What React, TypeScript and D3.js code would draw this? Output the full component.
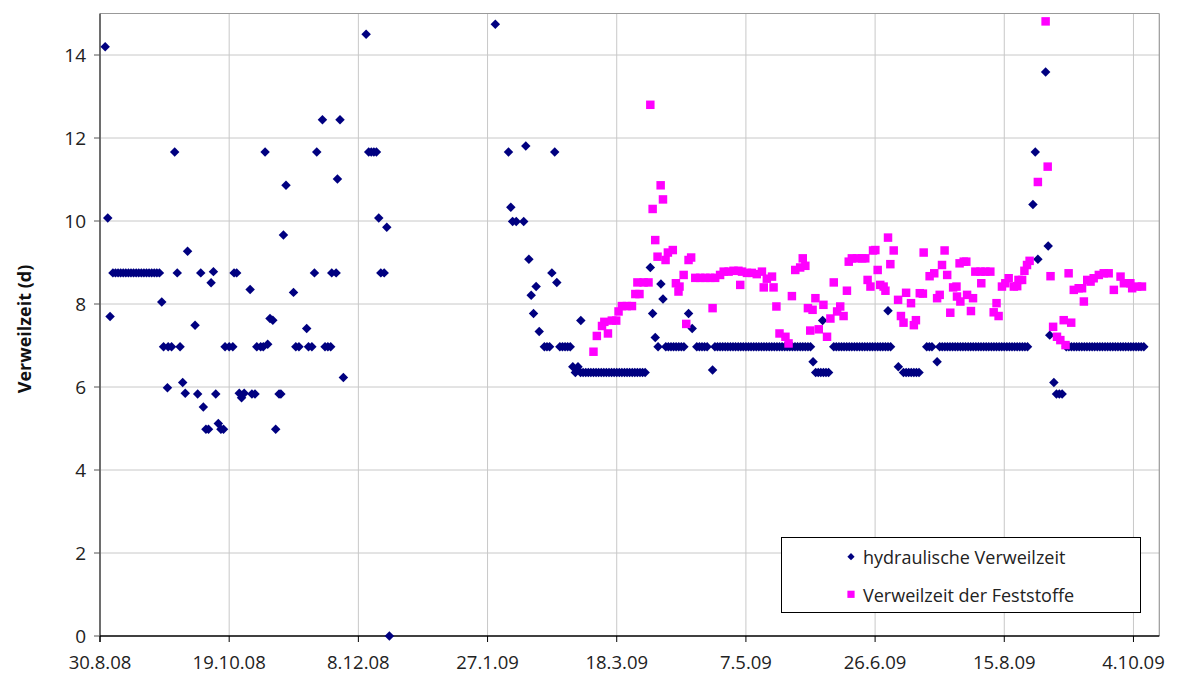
import React from 'react';
import * as d3 from 'd3';

const startDate = new Date(2008, 7, 30);
const domainDays = 410;
const xTickOffsets = [0, 50, 100, 150, 200, 250, 300, 350, 400];
const xTickLabels = ['30.8.08', '19.10.08', '8.12.08', '27.1.09', '18.3.09', '7.5.09', '26.6.09', '15.8.09', '4.10.09'];
const yTicks = [0, 2, 4, 6, 8, 10, 12, 14];
const yMax = 15;
const yTitle = 'Verweilzeit (d)';
const seriesNames = ['hydraulische Verweilzeit', 'Verweilzeit der Feststoffe'];

// [days since 30.8.08, value]
const hydraulic: [number, number][] = [
  [2, 14.2], [3, 10.07], [3.9, 7.7],
  [5, 8.75], [6, 8.75], [7, 8.75], [8, 8.75], [9, 8.75], [10, 8.75], [11, 8.75], [12, 8.75], [13, 8.75], [14, 8.75],
  [15, 8.75], [16, 8.75], [17, 8.75], [18, 8.75], [19, 8.75], [20, 8.75], [21, 8.75], [22, 8.75], [23, 8.75],
  [23.9, 8.05], [24.6, 6.97], [26.1, 5.98], [26.4, 6.97], [27.7, 6.97], [28.9, 11.66], [29.9, 8.75], [31, 6.97],
  [32, 6.11], [33, 5.85], [33.9, 9.27], [36.8, 7.49], [37.8, 5.83], [39, 8.75], [40, 5.52], [41, 4.98], [42, 4.98],
  [43, 8.51], [43.9, 8.78], [44.8, 5.83], [45.8, 5.12], [46.8, 4.98], [47.8, 4.98], [48.4, 6.97], [50, 6.97],
  [51.4, 6.97], [51.9, 8.75], [52.9, 8.75], [53.9, 5.85], [54.8, 5.74], [55.8, 5.85], [58.1, 8.35], [58.8, 5.83],
  [60, 5.83], [60.7, 6.97], [62.2, 6.97], [63.2, 6.97], [63.9, 11.66], [64.9, 7.03], [65.8, 7.65], [66.9, 7.61],
  [68, 4.98], [69.3, 5.83], [70, 5.83], [71, 9.66], [72, 10.86], [74.9, 8.28], [75.8, 6.97], [77, 6.97], [80, 7.41],
  [80.7, 6.97], [82, 6.97], [83, 8.75], [83.9, 11.66], [86.1, 12.44], [87.1, 6.97], [88.2, 6.97], [89.3, 6.97],
  [89.7, 8.75], [91.4, 8.75], [91.9, 11.01], [92.9, 12.44], [94.2, 6.23], [103, 14.5], [104, 11.66], [105, 11.66],
  [106, 11.66], [107, 11.66], [107.9, 10.07], [108.7, 8.75], [110, 8.75], [111, 9.85], [112, 0],
  [153, 14.74], [158.1, 11.66], [159, 10.33], [159.7, 9.99], [161.1, 9.99], [164, 9.99], [164.8, 11.81], [166, 9.08],
  [166.9, 8.21], [167.8, 7.77], [168.8, 8.42], [170, 7.34], [172, 6.97], [173, 6.97], [174, 6.97], [174.9, 8.75],
  [176, 11.66], [176.8, 8.52], [178, 6.97], [179, 6.97], [180, 6.97], [181, 6.97], [182, 6.97],
  [183, 6.49], [184, 6.35], [185, 6.49], [186.1, 7.6],
  [186, 6.35], [187, 6.35], [188, 6.35], [189, 6.35], [190, 6.35], [191, 6.35], [192, 6.35], [193, 6.35], [194, 6.35],
  [195, 6.35], [196, 6.35], [197, 6.35], [198, 6.35], [199, 6.35], [200, 6.35], [201, 6.35], [202, 6.35], [203, 6.35],
  [204, 6.35], [205, 6.35], [206, 6.35], [207, 6.35], [208, 6.35], [209, 6.35], [210, 6.35], [211, 6.35],
  [213, 8.88], [213.9, 7.77], [214.9, 7.19], [216, 6.97], [217.1, 8.48], [217.9, 8.12],
  [219, 6.97], [220, 6.97], [221, 6.97], [222, 6.97], [223, 6.97], [224, 6.97], [225, 6.97], [226, 6.97],
  [227.8, 7.77], [229.2, 7.41], [231, 6.97], [232, 6.97], [233, 6.97], [234, 6.97], [235, 6.97], [237.1, 6.41],
  [238, 6.97], [239, 6.97], [240, 6.97], [241, 6.97], [242, 6.97], [243, 6.97], [244, 6.97], [245, 6.97], [246, 6.97],
  [247, 6.97], [248, 6.97], [249, 6.97], [250, 6.97], [251, 6.97], [252, 6.97], [253, 6.97], [254, 6.97], [255, 6.97],
  [256, 6.97], [257, 6.97], [258, 6.97], [259, 6.97], [260, 6.97], [261, 6.97], [262, 6.97], [263, 6.97], [264, 6.97],
  [265, 6.97], [266, 6.97], [267, 6.97], [268, 6.97], [269, 6.97], [270, 6.97], [271, 6.97], [272, 6.97], [273, 6.97],
  [274, 6.97], [275, 6.97], [276, 6.61], [277, 6.35], [278, 6.35], [279, 6.35], [279.7, 7.6], [280, 6.35], [281, 6.35],
  [282, 6.35], [284, 6.97], [285, 6.97], [286, 6.97], [287, 6.97], [288, 6.97], [289, 6.97], [290, 6.97], [291, 6.97],
  [292, 6.97], [293, 6.97], [294, 6.97], [295, 6.97], [296, 6.97], [297, 6.97], [298, 6.97], [299, 6.97], [300, 6.97],
  [301, 6.97], [302, 6.97], [303, 6.97], [304, 6.97], [305, 7.84], [305, 6.97], [306, 6.97], [309, 6.49],
  [311, 6.35], [312, 6.35], [313, 6.35], [314, 6.35], [315, 6.35], [316, 6.35], [317, 6.35],
  [320, 6.97], [321, 6.97], [322, 6.97], [324, 6.61], [325, 6.97], [326, 6.97], [327, 6.97], [328, 6.97], [329, 6.97],
  [330, 6.97], [331, 6.97], [332, 6.97], [333, 6.97], [334, 6.97], [335, 6.97], [336, 6.97], [337, 6.97], [338, 6.97],
  [339, 6.97], [340, 6.97], [341, 6.97], [342, 6.97], [343, 6.97], [344, 6.97], [345, 6.97], [346, 6.97], [347, 6.97],
  [348, 6.97], [349, 6.97], [350, 6.97], [351, 6.97], [352, 6.97], [353, 6.97], [354, 6.97], [355, 6.97], [356, 6.97],
  [357, 6.97], [358, 6.97], [359, 6.97],
  [361.1, 10.4], [362, 11.66], [363, 9.08], [366, 13.59], [367, 9.4], [367.6, 7.25], [369.2, 6.11], [370.2, 5.83],
  [371.3, 5.83], [372.4, 5.83],
  [374, 6.97], [375, 6.97], [376, 6.97], [377, 6.97], [378, 6.97], [379, 6.97], [380, 6.97], [381, 6.97], [382, 6.97],
  [383, 6.97], [384, 6.97], [385, 6.97], [386, 6.97], [387, 6.97], [388, 6.97], [389, 6.97], [390, 6.97], [391, 6.97],
  [392, 6.97], [393, 6.97], [394, 6.97], [395, 6.97], [396, 6.97], [397, 6.97], [398, 6.97], [399, 6.97], [400, 6.97],
  [401, 6.97], [402, 6.97], [403, 6.97], [404, 6.97],
];

const feststoffe: [number, number][] = [
  [191, 6.85], [192.3, 7.23], [194.3, 7.47], [195.2, 7.57], [196.6, 7.29], [198.1, 7.6], [199.8, 7.6], [200.7, 7.82],
  [202, 7.95], [203.9, 7.95], [205.9, 7.95], [207.2, 8.24], [208, 8.52], [208.8, 8.24], [210.4, 8.52], [212.3, 8.52],
  [213, 12.8], [213.9, 10.29], [214.9, 9.54], [215.8, 9.14], [217, 10.86], [217.9, 10.52], [218.9, 9.06], [219.8, 9.24],
  [221.7, 9.3], [222.9, 8.5], [223.9, 8.3], [224.3, 8.42], [225.9, 8.7], [226.9, 7.52], [227.8, 9.06], [228.8, 9.12],
  [230.4, 8.63], [232.3, 8.63], [234.3, 8.63], [236.2, 8.63], [237.1, 7.9], [238.1, 8.63], [240, 8.7], [241.4, 8.78],
  [243.3, 8.78], [245.2, 8.8], [247.1, 8.8], [247.8, 8.46], [248.5, 8.78], [250.4, 8.75], [252.3, 8.75], [254.2, 8.72],
  [256.2, 8.78], [256.9, 8.4], [258.1, 8.61], [260.1, 8.66], [260.7, 8.4], [261.8, 7.94], [263, 7.29], [265.3, 7.21],
  [266.5, 7.05], [267.8, 8.19], [269.1, 8.82], [271, 8.88], [272, 9.1], [273, 8.92], [274, 7.9], [274.9, 7.36],
  [275.8, 7.86], [276.9, 8.14], [278.2, 7.39], [280, 7.98], [281.4, 7.21], [282.7, 7.65], [284, 8.52], [285.3, 7.82],
  [286.5, 7.94], [287.8, 7.71], [289.1, 8.32], [289.8, 9.02], [291, 9.1], [293, 9.1], [295, 9.1], [296.2, 9.1],
  [297.1, 8.58], [298.2, 8.42], [299.2, 9.29], [300.1, 9.3], [301, 8.82], [302, 8.46], [303.3, 8.42], [304, 8.32],
  [305, 9.6], [305.9, 8.96], [307.2, 9.29], [308.9, 8.1], [310, 7.71], [311, 7.55], [312, 8.27], [313.9, 8.02],
  [315, 7.49], [315.8, 7.61], [317.3, 8.26], [318.5, 8.25], [318.8, 9.24], [321.1, 8.67], [322.9, 8.74], [324, 8.14],
  [325, 8.22], [325.9, 8.94], [326.9, 9.29], [327.9, 8.7], [329.1, 7.79], [330.2, 8.4], [331.5, 8.42], [331.7, 8.18],
  [332.7, 8.98], [333, 8.06], [334.3, 9.02], [335.3, 9.02], [335.6, 8.22], [337.1, 7.83], [337.9, 8.14], [338.8, 8.78],
  [340.8, 8.78], [341.1, 8.5], [342.7, 8.78], [344.6, 8.78], [345.9, 7.8], [347, 8.02], [347.8, 7.71], [349.1, 8.42],
  [350.4, 8.5], [351.7, 8.62], [353.7, 8.42], [355, 8.43], [355.5, 8.58], [356.9, 8.58], [357.8, 8.8], [358.8, 8.94],
  [359.8, 9.04], [363, 10.94], [366, 14.81], [366.8, 11.31], [367.9, 8.67], [368.9, 7.45], [370.4, 7.21], [371.7, 7.13],
  [373, 7.61], [373.7, 7.01], [374.9, 8.74], [375.9, 7.55], [376.9, 8.34], [378.8, 8.38], [380.1, 8.38], [380.8, 8.06],
  [382.1, 8.58], [383.4, 8.54], [384.6, 8.62], [386.6, 8.7], [388.5, 8.74], [390.4, 8.74], [392.4, 8.34], [395, 8.66],
  [396.3, 8.5], [398.8, 8.5], [399.5, 8.38], [401.4, 8.42], [403.3, 8.42],
];

const DAY = 864e5;
const toDate = (d: number) => new Date(startDate.getTime() + d * DAY);

export default function App() {
  const W = 1178, H = 675;
  const left = 100, right = 1159.3, top = 13.5, bottom = 636;
  const x = d3.scaleTime().domain([startDate, toDate(domainDays)]).range([left, right]);
  const y = d3.scaleLinear().domain([0, yMax]).range([bottom, top]);
  const diamond = d3.symbol(d3.symbolSquare, 45)() as string;
  const square = d3.symbol(d3.symbolSquare, 72)() as string;
  const legDiamond = d3.symbol(d3.symbolSquare, 26)() as string;
  const legSquare = d3.symbol(d3.symbolSquare, 52)() as string;
  const font = "'Open Sans', 'DejaVu Sans', sans-serif";
  const grid = '#c8c8c8';

  return (
    <svg width={W} height={H} style={{ position: 'absolute', left: 0, top: 0, background: '#fff' }}
      fontFamily={font}>
      <rect x={0} y={0} width={W} height={H} fill="#fff" />
      {yTicks.filter(t => t > 0).map(t => (
        <line key={'hg' + t} x1={left} x2={right} y1={y(t)} y2={y(t)} stroke={grid} strokeWidth={1} />
      ))}
      {xTickOffsets.filter(o => o > 0).map(o => (
        <line key={'vg' + o} x1={x(toDate(o))} x2={x(toDate(o))} y1={top} y2={bottom} stroke={grid} strokeWidth={1} />
      ))}
      <line x1={left} x2={right} y1={top} y2={top} stroke="#999" strokeWidth={1.2} />
      <line x1={right} x2={right} y1={top} y2={bottom} stroke="#999" strokeWidth={1.2} />
      <line x1={left} x2={left} y1={top} y2={bottom + 6} stroke="#6e6e6e" strokeWidth={2} />
      {yTicks.map(t => (
        <g key={'yt' + t}>
          <line x1={left - 6} x2={left} y1={y(t)} y2={y(t)} stroke="#555" strokeWidth={1} />
          <text x={86} y={y(t)} dy="0.36em" textAnchor="end" fontSize={19} fill="#222">{t}</text>
        </g>
      ))}
      <line x1={left} x2={right} y1={bottom} y2={bottom} stroke="#000" strokeWidth={1.5} />
      {xTickOffsets.map((o, i) => (
        <g key={'xt' + o}>
          <line x1={x(toDate(o))} x2={x(toDate(o))} y1={bottom} y2={bottom + 6} stroke="#000" strokeWidth={1} />
          <text x={x(toDate(o))} y={669} textAnchor="middle" fontSize={18.5} fill="#222">{xTickLabels[i]}</text>
        </g>
      ))}
      <text transform={`translate(31, 329) rotate(-90)`} textAnchor="middle" fontSize={18} fontWeight="bold" fill="#111">
        {yTitle}
      </text>
      <g>
        {hydraulic.map(([d, v], i) => (
          <path key={'h' + i} d={diamond} transform={`translate(${x(toDate(d))},${y(v)}) rotate(45)`} fill="#000080" />
        ))}
      </g>
      <g>
        {feststoffe.map(([d, v], i) => (
          <path key={'f' + i} d={square} transform={`translate(${x(toDate(d))},${y(v)})`} fill="#FF00FF" />
        ))}
      </g>
      <rect x={781.5} y={537.5} width={359} height={75} fill="#fff" stroke="#000" strokeWidth={1} />
      <path d={legDiamond} transform="translate(851,556.7) rotate(45)" fill="#000080" />
      <text x={863} y={564} fontSize={18} fill="#222">{seriesNames[0]}</text>
      <path d={legSquare} transform="translate(851,594.3)" fill="#FF00FF" />
      <text x={863} y={601.7} fontSize={18} fill="#222">{seriesNames[1]}</text>
    </svg>
  );
}
